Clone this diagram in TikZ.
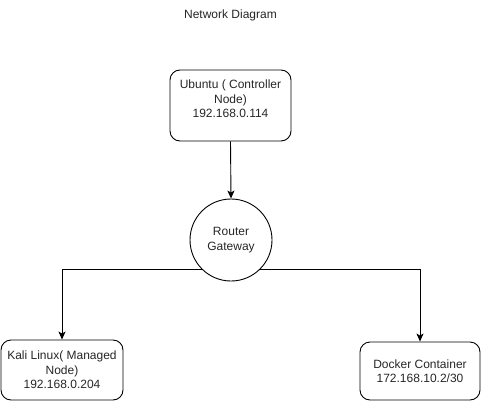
\documentclass[tikz,border=0pt]{standalone}
\usepackage{fontspec}
\setmainfont{Liberation Sans}
\usetikzlibrary{arrows.meta}
\begin{document}
\begin{tikzpicture}[x=1pt,y=-1pt,
  every node/.style={font=\fontsize{12}{14.5}\selectfont, inner sep=0pt},
  boxnode/.style={draw, line width=0.9pt, rounded corners=10pt},
  txt/.style={align=center, text=black!85},
  conn/.style={line width=0.9pt, -{Stealth[length=8pt,width=7pt,inset=2pt]}}]
\useasboundingbox (0,0) rectangle (481,401);
\node[txt] (title) at (230.5,15) {Network Diagram};
\node[boxnode, minimum width=121pt, minimum height=71pt] (ubuntu) at (230.5,105.5) {};
\node[txt] (ubuntutext) at (230.5,99) {Ubuntu ( Controller\\Node)\\192.168.0.114};
\node[draw, circle, line width=0.9pt, minimum size=82pt, txt] (router) at (231,240) {Router\\Gateway};
\node[boxnode, minimum width=122pt, minimum height=60pt, txt] (kali) at (62,370) {Kali Linux( Managed\\Node)\\192.168.0.204};
\node[boxnode, minimum width=120pt, minimum height=58pt, txt] (docker) at (420,371) {Docker Container\\172.168.10.2/30};
\draw[conn] (ubuntu.south) -- (router.north);
\draw[conn] (router.225) -| (kali.north);
\draw[conn] (router.-45) -| (docker.north);
\end{tikzpicture}
\end{document}
